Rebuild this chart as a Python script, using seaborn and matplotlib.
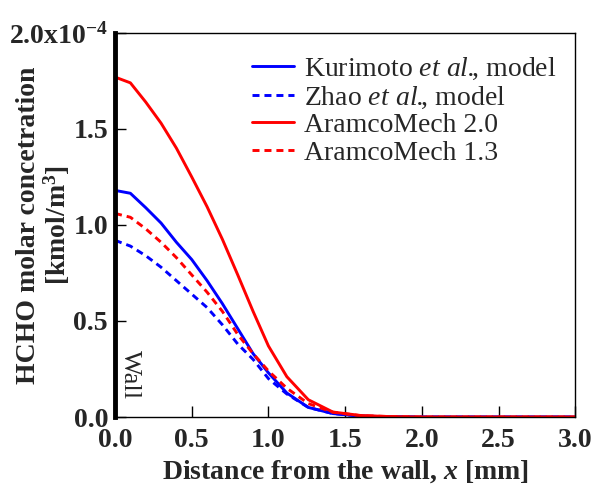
import numpy as np
import pandas as pd
import matplotlib
matplotlib.use("Agg")
import matplotlib.pyplot as plt
import seaborn as sns

# Distance from the wall [mm]
x_mm = [0.0, 0.1, 0.2, 0.3, 0.4, 0.5, 0.6, 0.7, 0.8, 0.9, 1.0, 1.12, 1.26, 1.42,
        1.6, 1.8, 2.0, 2.2, 2.4, 2.6, 2.8, 3.0]

# HCHO molar concentration, in units of 1e-4 kmol/m^3
kurimoto = [1.18, 1.165, 1.09, 1.01, 0.91, 0.82, 0.71, 0.59, 0.46, 0.33, 0.23, 0.125,
            0.05, 0.018, 0.005, 0.001, 0.0, 0.0, 0.0, 0.0, 0.0, 0.0]
zhao = [0.92, 0.89, 0.84, 0.78, 0.71, 0.64, 0.57, 0.48, 0.38, 0.30, 0.20, 0.12,
        0.05, 0.018, 0.005, 0.001, 0.0, 0.0, 0.0, 0.0, 0.0, 0.0]
aramco20 = [1.77, 1.74, 1.64, 1.53, 1.40, 1.25, 1.095, 0.925, 0.74, 0.55, 0.37, 0.21,
            0.09, 0.026, 0.008, 0.002, 0.0, 0.0, 0.0, 0.0, 0.0, 0.0]
aramco13 = [1.06, 1.04, 0.98, 0.91, 0.83, 0.74, 0.65, 0.55, 0.43, 0.33, 0.24, 0.15,
            0.07, 0.025, 0.007, 0.002, 0.0, 0.0, 0.0, 0.0, 0.0, 0.0]

labels = [r"Kurimoto $\mathsf{et\ al.}\!\!$, model",
          r"Zhao $\mathsf{et\ al.}\!\!$, model",
          "AramcoMech 2.0",
          "AramcoMech 1.3"]
colors = ["#0000ff", "#0000ff", "#ff0000", "#ff0000"]
solid = [True, False, True, False]

x_ticks = [0.0, 0.5, 1.0, 1.5, 2.0, 2.5, 3.0]
x_tick_labels = ["0.0", "0.5", "1.0", "1.5", "2.0", "2.5", "3.0"]
y_ticks = [0.0, 0.5, 1.0, 1.5, 2.0]
y_tick_labels = ["0.0", "0.5", "1.0", "1.5", r"2.0x10$^{\mathbf{-4}}$"]

sns.set_theme(style="ticks")
plt.rcParams.update({
    "font.family": ["Liberation Serif", "DejaVu Serif"],
    "mathtext.fontset": "custom",
    "mathtext.rm": "Liberation Serif",
    "mathtext.bf": "Liberation Serif:bold",
    "mathtext.it": "Liberation Serif:italic:bold",
    "mathtext.sf": "Liberation Serif:italic",
    "xtick.direction": "in",
    "ytick.direction": "in",
})

FS = 20

fig = plt.figure(figsize=(5.93, 4.84), dpi=100)
ax = fig.add_axes([0.194, 0.1384, 0.776, 0.7936])

series = [kurimoto, zhao, aramco20, aramco13]
for vals, lab, col, sol in zip(series, labels, colors, solid):
    df = pd.DataFrame({"x": x_mm, "c": vals})
    sns.lineplot(data=df, x="x", y="c", ax=ax, color=col, label=lab,
                 linewidth=2.1, linestyle="-" if sol else (0, (2.4, 1.7)))

ax.set_xlim(0, 3.0)
ax.set_ylim(0, 2.0)
ax.set_xticks(x_ticks)
ax.set_xticklabels(x_tick_labels, fontsize=FS, fontweight="bold")
ax.set_yticks(y_ticks)
ax.set_yticklabels(y_tick_labels, fontsize=FS, fontweight="bold")
ax.tick_params(axis="both", length=8, width=1, color="black")
ax.tick_params(axis="x", pad=8)
ax.tick_params(axis="y", pad=5)

for side in ["top", "right", "bottom"]:
    ax.spines[side].set_linewidth(1.0)
    ax.spines[side].set_color("black")
ax.spines["left"].set_linewidth(3.5)
ax.spines["left"].set_color("black")

ax.set_xlabel(r"Distance from the wall, $x$ [mm]", fontsize=FS, fontweight="bold")
ax.xaxis.set_label_coords(0.5, -0.108)
ax.set_ylabel("HCHO molar concetration\n" + r"[kmol/m$^{\mathbf{3}}$]", fontsize=FS,
              fontweight="bold", linespacing=1.05)
ax.yaxis.set_label_coords(-0.093, 0.5)

ax.text(0.1, 0.22, "Wall", rotation=270, fontsize=19, ha="center", va="center")

leg = ax.legend(loc="upper left", bbox_to_anchor=(0.298, 0.94), frameon=False,
                fontsize=FS, labelspacing=0.08, handlelength=1.5,
                handletextpad=0.35, borderpad=0, borderaxespad=0)

fig.savefig("out.png", dpi=100)
